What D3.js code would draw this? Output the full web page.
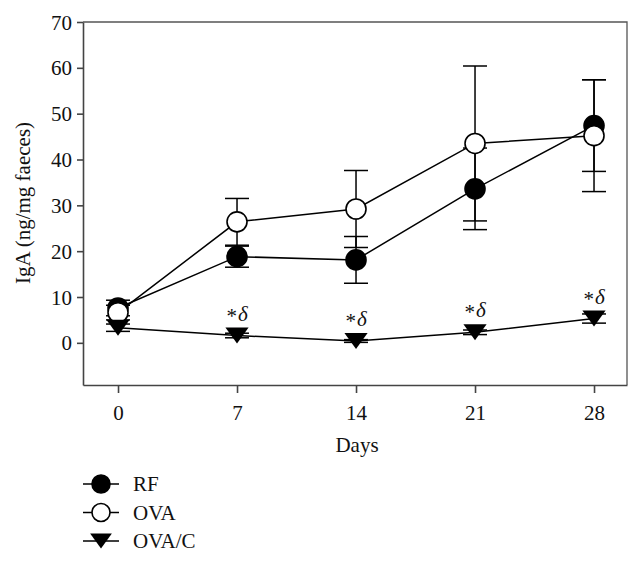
<!DOCTYPE html>
<html>
<head>
<meta charset="utf-8">
<script src="https://cdn.jsdelivr.net/npm/d3@7"></script>
<style>
  body { margin: 0; background: #fff; }
  text { font-family: "Liberation Serif", "DejaVu Serif", serif; }
</style>
</head>
<body>
<script>
var w = 642;
var h = 565;

// data
var days = [0, 7, 14, 21, 28];
var rfMean = [7.6, 18.8, 18.1, 33.6, 47.4];
var rfErr = [1.7, 2.3, 5.1, 8.9, 10.0];
var ovaMean = [6.6, 26.4, 29.2, 43.5, 45.2];
var ovaErr = [1.6, 5.1, 8.4, 16.9, 12.2];
var ovacMean = [3.3, 1.6, 0.4, 2.3, 5.3];
var ovacErr = [0.8, 0.5, 0.3, 0.5, 1.0];
var starDays = [7, 14, 21, 28];
var yTicks = [0, 10, 20, 30, 40, 50, 60, 70];

var series = [
  { name: "RF", mean: rfMean, err: rfErr, shape: "circle", fill: "#000" },
  { name: "OVA", mean: ovaMean, err: ovaErr, shape: "circle", fill: "#fff" },
  { name: "OVA/C", mean: ovacMean, err: ovacErr, shape: "tri", fill: "#000" }
];

var xScale = d3.scaleLinear().domain([-2.06, 29.94]).range([83, 627]);
var yScale = d3.scaleLinear().domain([-9.2, 70]).range([385, 22]);

var svg = d3.select("body").append("svg").attr("width", w).attr("height", h);

// frame (top and right)
svg.append("path")
  .attr("d", "M" + xScale.range()[0] + "," + yScale.range()[1] + "H" + xScale.range()[1] + "V" + yScale.range()[0])
  .attr("fill", "none")
  .attr("stroke", "#555")
  .attr("stroke-width", 1.3);

//Axes
var yAxis = svg.append("g")
  .attr("transform", "translate(" + xScale.range()[0] + ",0)")
  .call(d3.axisLeft(yScale).tickValues(yTicks).tickSize(6).tickSizeOuter(0).tickPadding(5));

var xAxis = svg.append("g")
  .attr("transform", "translate(0," + yScale.range()[0] + ")")
  .call(d3.axisBottom(xScale).tickValues(days).tickSize(8).tickSizeOuter(0).tickPadding(12));

[xAxis, yAxis].forEach(function (ax) {
  ax.select(".domain").attr("stroke", "#444").attr("stroke-width", 1.6);
  ax.selectAll(".tick line").attr("stroke", "#444").attr("stroke-width", 1.6);
  ax.selectAll(".tick text")
    .attr("fill", "#111")
    .attr("font-size", "21px")
    .attr("font-family", "'Liberation Serif', serif");
});
yAxis.selectAll(".tick text").attr("dy", "0.34em");

svg.append("text")
  .attr("x", 357).attr("y", 452)
  .attr("text-anchor", "middle")
  .attr("font-size", "21px")
  .attr("fill", "#111")
  .text("Days");

svg.append("text")
  .attr("transform", "translate(30,203) rotate(-90)")
  .attr("text-anchor", "middle")
  .attr("font-size", "21px")
  .attr("fill", "#111")
  .text("IgA (ng/mg faeces)");

var triPath = function (s) {
  return "M" + (-s * 1.45) + "," + (-s) + "L" + (s * 1.45) + "," + (-s) + "L0," + s + "Z";
};

var line = d3.line()
  .x(function (d) { return xScale(d.day); })
  .y(function (d) { return yScale(d.mean); });

series.forEach(function (s) {
  var pts = days.map(function (d, i) {
    return { day: d, mean: s.mean[i], err: s.err[i] };
  });
  var g = svg.append("g");

  // error bars
  var eb = g.selectAll(".eb").data(pts).enter().append("g");
  eb.append("line")
    .attr("x1", function (d) { return xScale(d.day); })
    .attr("x2", function (d) { return xScale(d.day); })
    .attr("y1", function (d) { return yScale(d.mean - d.err); })
    .attr("y2", function (d) { return yScale(d.mean + d.err); })
    .attr("stroke", "#000").attr("stroke-width", 1.5);
  [-1, 1].forEach(function (sg) {
    eb.append("line")
      .attr("x1", function (d) { return xScale(d.day) - 12; })
      .attr("x2", function (d) { return xScale(d.day) + 12; })
      .attr("y1", function (d) { return yScale(d.mean + sg * d.err); })
      .attr("y2", function (d) { return yScale(d.mean + sg * d.err); })
      .attr("stroke", "#000").attr("stroke-width", 1.5);
  });

  g.append("path")
    .datum(pts)
    .attr("d", line)
    .attr("fill", "none")
    .attr("stroke", "#000")
    .attr("stroke-width", 1.5);

  if (s.shape == "circle") {
    g.selectAll("circle").data(pts).enter().append("circle")
      .attr("cx", function (d) { return xScale(d.day); })
      .attr("cy", function (d) { return yScale(d.mean); })
      .attr("r", 10)
      .attr("fill", s.fill)
      .attr("stroke", "#000")
      .attr("stroke-width", 1.6);
  } else {
    g.selectAll(".tri").data(pts).enter().append("path")
      .attr("transform", function (d) { return "translate(" + xScale(d.day) + "," + yScale(d.mean) + ")"; })
      .attr("d", triPath(8))
      .attr("fill", s.fill);
  }
});

// significance marks
var marks = svg.selectAll(".mark").data(starDays).enter().append("text")
  .attr("x", function (d) { return xScale(d); })
  .attr("y", function (d) { return yScale(ovacMean[days.indexOf(d)]) - 15; })
  .attr("text-anchor", "middle")
  .attr("font-size", "21px")
  .attr("fill", "#111");
marks.append("tspan").attr("dy", "2").text("*");
marks.append("tspan").attr("font-style", "italic").attr("dx", "1").attr("dy", "-2").text("δ");

// legend
var legend = svg.selectAll(".leg").data(series).enter().append("g")
  .attr("transform", function (d, i) { return "translate(0," + (484 + i * 28.5) + ")"; });
legend.append("line")
  .attr("x1", 83).attr("x2", 119)
  .attr("stroke", "#000").attr("stroke-width", 1.5);
legend.each(function (d) {
  var g = d3.select(this);
  if (d.shape == "circle") {
    g.append("circle").attr("cx", 101).attr("r", 9)
      .attr("fill", d.fill).attr("stroke", "#000").attr("stroke-width", 1.6);
  } else {
    g.append("path").attr("transform", "translate(101,0)").attr("d", triPath(7.5)).attr("fill", d.fill);
  }
});
legend.append("text")
  .attr("x", 133).attr("y", 7)
  .attr("font-size", "21px")
  .attr("fill", "#111")
  .text(function (d) { return d.name; });
</script>
</body>
</html>
